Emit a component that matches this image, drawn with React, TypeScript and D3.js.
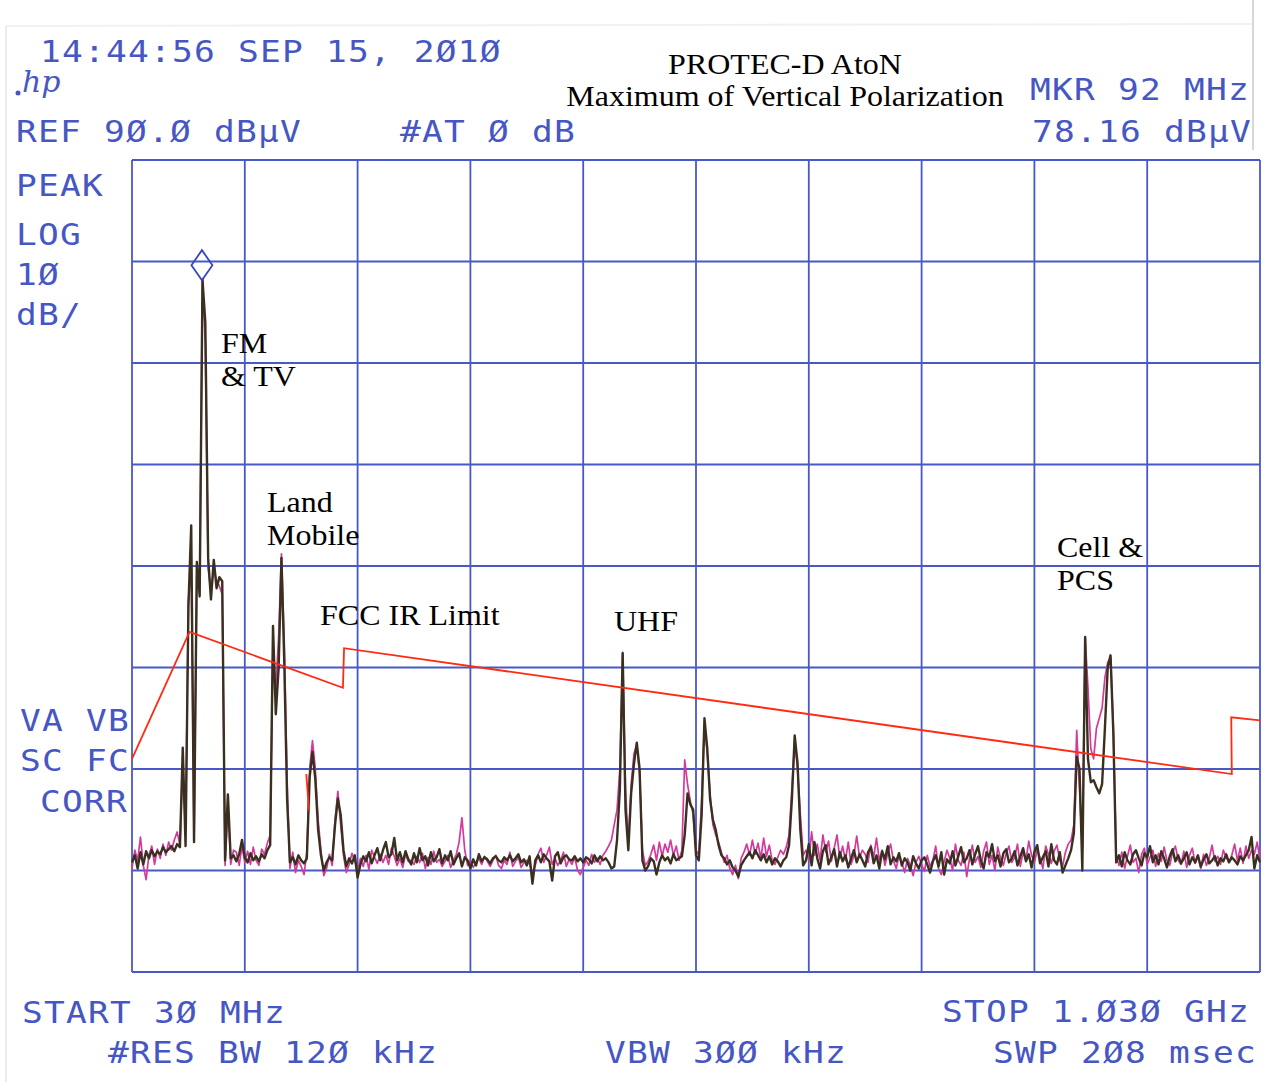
import React from 'react';
import * as d3 from 'd3';

// Spectrum analyzer settings
const START_MHZ = 30;
const STOP_MHZ = 1030;
const REF_LEVEL_DBUV = 90;
const DB_PER_DIV = 10;
const X_DIVS = 10;
const Y_DIVS = 8;
const MARKER_MHZ = 92;
const MARKER_DBUV = 78.16;

// Clear-write trace (dark), 401 sweep points, dBµV
const clearTrace: number[] = [
  20.8, 21.5, 20.2, 21.8, 20.6, 21.9, 21.2, 22.0, 21.4, 21.9,
  21.6, 22.3, 21.8, 22.1, 22.4, 21.9, 22.6, 22.3, 32.1, 22.4,
  46.0, 54.0, 22.8, 50.4, 47.0, 78.2, 74.0, 50.8, 46.7, 50.6,
  47.8, 48.9, 48.5, 21.0, 27.5, 21.2, 21.5, 20.9, 21.6, 23.0,
  21.3, 20.8, 21.7, 21.0, 21.4, 20.9, 21.6, 21.2, 22.0, 22.5,
  44.1, 35.4, 40.0, 50.8, 40.5, 27.0, 20.8, 21.3, 20.6, 21.5,
  21.0, 20.7, 21.2, 29.2, 31.7, 29.0, 24.0, 21.5, 20.0, 20.8,
  21.3, 21.0, 24.5, 27.1, 25.5, 22.0, 20.4, 21.2, 20.7, 21.5,
  19.3, 20.6, 21.4, 20.9, 21.8, 20.7, 21.5, 22.2, 21.0, 22.0,
  22.8, 21.3, 21.6, 23.2, 21.0, 21.8, 20.8, 21.9, 21.1, 20.6,
  21.7, 20.8, 22.2, 21.0, 21.4, 20.5, 21.8, 20.9, 21.3, 22.1,
  20.7, 21.5, 21.0, 21.9, 20.6, 21.2, 21.7, 20.4, 21.3, 21.0,
  20.2, 21.1, 20.5, 21.6, 20.9, 21.3, 21.1, 20.7, 21.2, 21.4,
  21.0, 20.8, 21.3, 21.0, 21.5, 20.9, 21.2, 21.6, 20.8, 21.1,
  20.5, 21.4, 18.7, 21.0, 21.5, 20.8, 21.6, 21.2, 20.9, 19.0,
  21.4, 21.8, 20.7, 21.3, 21.5, 21.1, 21.0, 21.4, 20.9, 21.2,
  20.8, 21.3, 21.1, 20.7, 21.5, 20.9, 21.4, 21.0, 21.2, 20.8,
  20.2, 20.4, 23.0, 28.0, 41.4, 26.0, 22.0, 27.6, 30.5, 32.6,
  30.0, 21.0, 20.0, 20.4, 21.2, 20.9, 19.6, 20.8, 21.5, 21.0,
  21.3, 20.7, 21.6, 21.0, 21.2, 21.4, 23.5, 27.6, 26.5, 26.0,
  21.5, 21.0, 25.5, 35.0, 32.0, 27.0, 25.0, 24.0, 22.5, 21.5,
  21.2, 20.6, 21.0, 20.3, 20.0, 19.4, 20.5, 21.0, 21.4, 21.8,
  21.2, 22.0, 21.5, 21.0, 21.6, 20.8, 21.4, 20.6, 21.2, 20.9,
  20.4, 21.0, 21.3, 22.5, 27.0, 33.3, 30.6, 24.0, 20.5, 21.0,
  22.6, 20.5, 22.8, 21.2, 20.2, 21.9, 22.5, 20.6, 21.3, 22.1,
  20.4, 21.8, 20.9, 21.5, 20.3, 21.2, 22.0, 20.8, 21.6, 21.0,
  20.4, 21.8, 22.3, 20.7, 21.5, 20.2, 21.9, 21.1, 22.4, 20.6,
  21.3, 20.9, 21.7, 20.5, 21.2, 20.8, 20.0, 21.4, 20.7, 20.2,
  21.0, 21.3, 20.6, 19.8, 20.9, 21.5, 20.4, 21.8, 19.6, 21.1,
  20.7, 21.9, 20.5, 21.4, 22.3, 20.8, 21.2, 22.0, 20.6, 21.6,
  22.4, 21.0, 20.2, 21.8, 21.3, 22.6, 20.9, 21.5, 20.4, 21.7,
  22.1, 20.8, 21.2, 21.9, 20.5, 21.4, 22.2, 20.9, 21.6, 20.3,
  21.8, 22.5, 20.7, 21.3, 21.9, 20.4, 22.6, 21.0, 20.6, 21.8,
  19.8, 20.5, 21.2, 22.0, 23.7, 31.2, 30.0, 20.0, 43.0, 31.0,
  28.7, 28.9, 28.2, 27.6, 28.5, 34.0, 40.0, 41.2, 33.5, 20.8,
  21.5, 20.4, 21.8, 21.0, 20.6, 21.6, 22.0, 21.2, 20.5, 21.7,
  21.3, 22.4, 20.8, 21.5, 20.6, 21.9, 21.2, 20.3, 21.4, 22.1,
  20.9, 21.5, 20.7, 21.2, 21.8, 20.6, 21.3, 20.8, 21.5, 20.4,
  21.1, 21.6, 20.7, 21.0, 21.4, 20.5, 21.2, 20.9, 21.6, 20.8,
  21.3, 21.0, 20.6, 21.4, 21.0, 21.5, 22.0, 23.3, 20.2, 21.5,
  20.8,
];

// Max-hold trace (magenta), 401 sweep points, dBµV
const maxHoldTrace: number[] = [
  20.2, 22.0, 21.0, 23.3, 20.5, 19.1, 21.5, 22.4, 20.6, 22.1,
  21.2, 22.6, 21.5, 22.8, 22.0, 23.0, 23.8, 22.5, 30.5, 24.0,
  46.7, 50.0, 23.0, 49.5, 48.5, 78.3, 72.0, 49.8, 47.5, 49.6,
  48.6, 48.0, 47.2, 20.5, 26.5, 20.6, 22.0, 21.8, 20.5, 22.4,
  20.8, 21.9, 20.6, 22.3, 21.0, 20.5, 22.1, 21.6, 22.7, 23.5,
  42.0, 38.0, 43.0, 51.2, 42.5, 29.0, 20.2, 21.8, 19.8, 21.0,
  20.4, 19.6, 21.8, 30.0, 32.8, 30.0, 25.0, 22.0, 19.5, 20.2,
  21.6, 20.5, 25.0, 27.8, 24.5, 21.5, 19.8, 20.6, 21.7, 20.9,
  20.0, 21.2, 20.4, 21.5, 20.1, 22.0, 21.3, 20.7, 21.6, 20.8,
  21.5, 20.6, 22.2, 21.4, 20.5, 21.2, 20.3, 21.6, 20.9, 21.0,
  20.6, 21.4, 20.8, 21.7, 20.2, 21.3, 20.6, 21.9, 20.8, 21.1,
  20.4, 20.9, 21.5, 20.3, 21.0, 21.6, 22.8, 25.2, 22.0, 20.5,
  21.0, 20.3, 20.8, 21.2, 20.6, 21.4, 20.9, 20.4, 21.0, 21.5,
  20.5, 20.2, 21.0, 20.6, 21.8, 20.4, 20.9, 21.3, 20.3, 20.8,
  21.0, 20.6, 19.8, 20.5, 21.6, 22.2, 20.8, 21.5, 22.3, 20.6,
  21.2, 20.5, 21.0, 21.8, 20.4, 21.1, 20.6, 21.3, 20.0, 19.6,
  20.3, 21.0, 20.5, 21.6, 20.8, 21.2, 20.6, 21.5, 21.9, 22.4,
  23.0, 24.5, 26.0, 30.0, 41.5, 28.0, 22.5, 28.5, 31.5, 32.4,
  29.5, 22.0, 20.5, 20.9, 21.6, 22.5, 21.0, 22.8, 21.4, 22.6,
  21.8, 23.0, 21.5, 22.4, 21.0, 22.0, 30.9, 28.5, 26.8, 25.5,
  22.0, 21.5, 27.0, 34.5, 31.5, 27.5, 24.5, 23.5, 22.8, 21.8,
  20.8, 21.5, 20.2, 19.6, 20.5, 19.2, 21.2, 21.8, 22.6, 21.5,
  23.0, 21.6, 22.7, 21.2, 23.2, 21.4, 22.5, 21.0, 20.6, 21.3,
  22.0, 21.6, 22.3, 23.5, 28.0, 32.8, 30.0, 25.5, 21.5, 22.0,
  21.0, 23.8, 21.5, 22.6, 21.0, 23.5, 21.8, 22.9, 20.9, 22.2,
  23.5, 21.2, 22.4, 21.0, 22.8, 20.6, 21.5, 23.4, 21.3, 22.0,
  21.6, 20.8, 22.5, 21.3, 23.2, 21.0, 22.0, 20.5, 21.7, 22.6,
  21.0, 20.2, 21.5, 20.8, 19.8, 21.2, 20.5, 19.5, 20.8, 21.4,
  20.6, 19.9, 21.5, 20.4, 21.0, 22.4, 20.2, 19.6, 20.9, 22.0,
  21.2, 20.0, 22.6, 21.0, 20.5, 21.8, 19.4, 21.2, 22.5, 20.8,
  21.4, 20.3, 21.9, 22.8, 20.6, 21.5, 20.0, 22.3, 21.2, 20.5,
  21.7, 22.4, 20.8, 21.3, 22.6, 20.4, 21.8, 21.0, 22.9, 21.5,
  20.8, 22.0, 21.3, 20.2, 22.4, 21.6, 20.7, 21.9, 22.5, 21.0,
  20.4, 21.8, 22.6, 23.0, 24.5, 33.8, 28.0, 22.0, 43.0, 38.0,
  32.0, 31.0, 34.0, 35.0, 36.0, 39.0, 40.5, 41.0, 34.0, 21.5,
  20.5, 21.8, 20.2, 21.4, 22.5, 20.8, 21.2, 19.8, 21.6, 22.2,
  20.6, 21.3, 22.0, 20.4, 21.7, 20.9, 22.3, 21.0, 20.5, 21.8,
  22.4, 21.0, 20.6, 21.9, 20.3, 21.5, 22.2, 20.7, 21.4, 20.2,
  21.6, 20.5, 21.2, 22.5, 20.9, 21.4, 20.6, 22.0, 21.3, 20.8,
  21.5, 22.6, 21.0, 22.2, 20.7, 22.4, 21.2, 22.0, 21.6, 22.8,
  21.0,
];

// FCC IR limit line (MHz, dBµV)
const limitFreq: number[] = [30, 81, 217, 218, 1005, 1004.5, 1030];
const limitLevel: number[] = [31.0, 43.5, 38.0, 41.9, 29.5, 35.1, 34.8];
const limitTickFreq: number[] = [184.5, 187];
const limitTickLevel: number[] = [29.5, 25.9];

// Instrument annotation texts
const headerDate = '14:44:56 SEP 15, 2Ø1Ø';
const refText = 'REF 9Ø.Ø dBµV';
const attText = '#AT Ø dB';
const markerTexts = ['MKR 92 MHz', '78.16 dBµV'];
const leftTexts = ['PEAK', 'LOG', '1Ø', 'dB/'];
const corrTexts = ['VA VB', 'SC FC', 'CORR'];
const footerTexts = ['START 3Ø MHz', '#RES BW 12Ø kHz', 'VBW 3ØØ kHz', 'STOP 1.Ø3Ø GHz', 'SWP 2Ø8 msec'];
const titleLines = ['PROTEC-D AtoN', 'Maximum of Vertical Polarization'];
const bandLabels = [['FM', '& TV'], ['Land', 'Mobile'], ['FCC IR Limit'], ['UHF'], ['Cell &', 'PCS']];

const GRID = '#3646c2';
const HPBLUE = '#4657c4';
const DARK = '#3a3020';
const MAGENTA = '#d43a9c';
const RED = '#ff2a12';

const HP_STRETCH = 1.15;
const HP_PITCH = 22;
const ANN_SIZE = 28.5;
const ANN_STRETCH = 32 / 28.5;

function HpText({ x, y, children }: { x: number; y: number; children: string }) {
  return (
    <text
      transform={`translate(${x},${y}) scale(${HP_STRETCH},1)`}
      style={{
        fontFamily: '"DejaVu Sans Mono", monospace',
        fontSize: 30,
        letterSpacing: `${HP_PITCH / HP_STRETCH - 18.06}px`,
      }}
    >
      {children}
    </text>
  );
}

function AnnText({ x, y, children, anchor }: { x: number; y: number; children: string; anchor?: string }) {
  return (
    <text
      transform={`translate(${x},${y}) scale(${ANN_STRETCH},1)`}
      textAnchor={anchor || 'start'}
      style={{ fontFamily: '"Liberation Serif", "Times New Roman", serif', fontSize: ANN_SIZE }}
    >
      {children}
    </text>
  );
}

export default function App() {
  const W = 1270;
  const H = 1082;
  const x = d3.scaleLinear().domain([START_MHZ, STOP_MHZ]).range([132, 1260]);
  const y = d3
    .scaleLinear()
    .domain([REF_LEVEL_DBUV - DB_PER_DIV * Y_DIVS, REF_LEVEL_DBUV])
    .range([972, 160]);

  const traceLine = (arr: number[]) => {
    const step = (STOP_MHZ - START_MHZ) / (arr.length - 1);
    return d3
      .line<number>()
      .x((_, i) => x(START_MHZ + i * step))
      .y((d) => y(d))(arr) as string;
  };
  const pairLine = (fs: number[], ls: number[]) =>
    d3
      .line<number>()
      .x((f) => x(f))
      .y((_, i) => y(ls[i]))(fs) as string;

  const xDivs = d3.range(X_DIVS + 1).map((k) => START_MHZ + (k * (STOP_MHZ - START_MHZ)) / X_DIVS);
  const yDivs = d3.range(Y_DIVS + 1).map((k) => REF_LEVEL_DBUV - k * DB_PER_DIV);

  const mx = x(MARKER_MHZ);
  const my = y(MARKER_DBUV);

  return (
    <svg
      width={W}
      height={H}
      viewBox={`0 0 ${W} ${H}`}
      style={{ position: 'absolute', left: 0, top: 0, background: '#ffffff' }}
    >
      <rect x={0} y={0} width={W} height={H} fill="#ffffff" />
      {/* page edge */}
      <line x1={6} y1={26} x2={6} y2={H} stroke="#ececec" strokeWidth={2} />
      <line x1={6} y1={26} x2={1252} y2={24} stroke="#f1f1f1" strokeWidth={2} />
      <line x1={1253} y1={0} x2={1253} y2={150} stroke="#d8d8d8" strokeWidth={2} />

      {/* grid */}
      <g stroke={GRID} strokeWidth={1.8} opacity={0.9}>
        {xDivs.map((f, k) => (
          <line key={'gx' + k} x1={x(f)} x2={x(f)} y1={y(yDivs[0])} y2={y(yDivs[Y_DIVS])} />
        ))}
        {yDivs.map((v, k) => (
          <line key={'gy' + k} x1={x(START_MHZ)} x2={x(STOP_MHZ)} y1={y(v)} y2={y(v)} />
        ))}
      </g>

      {/* traces */}
      <path d={traceLine(maxHoldTrace)} fill="none" stroke={MAGENTA} strokeWidth={1.7} strokeLinejoin="round" />
      <path d={traceLine(clearTrace)} fill="none" stroke={DARK} strokeWidth={2.4} strokeLinejoin="round" />

      {/* limit line */}
      <path d={pairLine(limitFreq, limitLevel)} fill="none" stroke={RED} strokeWidth={1.8} />
      <path d={pairLine(limitTickFreq, limitTickLevel)} fill="none" stroke={RED} strokeWidth={1.8} />

      {/* marker */}
      <path
        d={`M${mx},${my} L${mx - 10.5},${my - 15} L${mx},${my - 30} L${mx + 10.5},${my - 15} Z`}
        fill="none"
        stroke={GRID}
        strokeWidth={1.8}
      />

      {/* HP annotations */}
      <g fill={HPBLUE}>
        <HpText x={40} y={62}>{headerDate}</HpText>
        <HpText x={16} y={142}>{refText}</HpText>
        <HpText x={400} y={142}>{attText}</HpText>
        <HpText x={1030} y={100}>{markerTexts[0]}</HpText>
        <HpText x={1032} y={142}>{markerTexts[1]}</HpText>
        {leftTexts.map((t, i) => (
          <HpText key={t} x={16} y={[196, 245, 285, 325][i]}>{t}</HpText>
        ))}
        {corrTexts.map((t, i) => (
          <HpText key={t} x={i === 2 ? 40 : 20} y={[731, 771, 812][i]}>{t}</HpText>
        ))}
        <HpText x={22} y={1023}>{footerTexts[0]}</HpText>
        <HpText x={108} y={1063}>{footerTexts[1]}</HpText>
        <HpText x={605} y={1063}>{footerTexts[2]}</HpText>
        <HpText x={942} y={1022}>{footerTexts[3]}</HpText>
        <HpText x={993} y={1063}>{footerTexts[4]}</HpText>
      </g>
      {/* hp logo */}
      <g fill={HPBLUE} stroke="none">
        <text x={22} y={92} style={{ fontFamily: '"DejaVu Serif", serif', fontStyle: 'italic', fontSize: 30 }}>hp</text>
        <circle cx={18} cy={93} r={2.5} />
      </g>

      {/* hand annotations */}
      <g fill="#000000">
        <AnnText x={785} y={74} anchor="middle">{titleLines[0]}</AnnText>
        <AnnText x={785} y={106} anchor="middle">{titleLines[1]}</AnnText>
        <AnnText x={221} y={353}>{bandLabels[0][0]}</AnnText>
        <AnnText x={221} y={386}>{bandLabels[0][1]}</AnnText>
        <AnnText x={267} y={512}>{bandLabels[1][0]}</AnnText>
        <AnnText x={267} y={545}>{bandLabels[1][1]}</AnnText>
        <AnnText x={320} y={625}>{bandLabels[2][0]}</AnnText>
        <AnnText x={614} y={631}>{bandLabels[3][0]}</AnnText>
        <AnnText x={1057} y={557}>{bandLabels[4][0]}</AnnText>
        <AnnText x={1057} y={590}>{bandLabels[4][1]}</AnnText>
      </g>
    </svg>
  );
}
